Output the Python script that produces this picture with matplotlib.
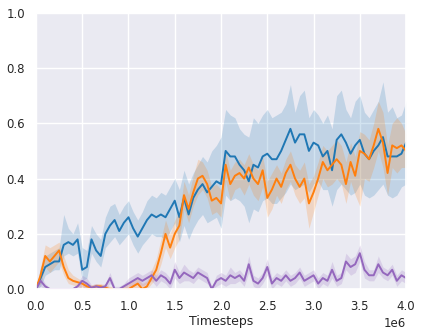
import numpy as np
import matplotlib
matplotlib.use("Agg")
import matplotlib.pyplot as plt
import seaborn as sns

# =========================================================
# DATA (x in units of 1e6 steps)
# =========================================================

steps = np.arange(0, 81) * 0.05e6

blue_mean = [0.00, 0.04, 0.08, 0.09, 0.10, 0.10, 0.16, 0.17, 0.16, 0.18,
             0.07, 0.08, 0.18, 0.14, 0.12, 0.20, 0.23, 0.25, 0.21, 0.24,
             0.26, 0.22, 0.19, 0.22, 0.25, 0.27, 0.26, 0.27, 0.26, 0.29,
             0.32, 0.26, 0.33, 0.27, 0.33, 0.36, 0.38, 0.35, 0.37, 0.39,
             0.38, 0.50, 0.48, 0.48, 0.45, 0.43, 0.39, 0.45, 0.44, 0.48,
             0.49, 0.47, 0.47, 0.50, 0.54, 0.58, 0.53, 0.56, 0.56, 0.50,
             0.53, 0.52, 0.48, 0.50, 0.43, 0.54, 0.56, 0.53, 0.49, 0.52,
             0.54, 0.49, 0.47, 0.50, 0.52, 0.55, 0.48, 0.48, 0.48, 0.49,
             0.53]
blue_upper = [0.00, 0.08, 0.12, 0.13, 0.14, 0.15, 0.27, 0.22, 0.20, 0.24,
              0.15, 0.14, 0.23, 0.20, 0.18, 0.26, 0.30, 0.31, 0.27, 0.30,
              0.32, 0.28, 0.25, 0.28, 0.32, 0.34, 0.33, 0.35, 0.34, 0.37,
              0.40, 0.36, 0.43, 0.38, 0.42, 0.45, 0.48, 0.46, 0.50, 0.52,
              0.55, 0.65, 0.63, 0.62, 0.58, 0.56, 0.55, 0.62, 0.60, 0.63,
              0.65, 0.62, 0.63, 0.64, 0.67, 0.74, 0.64, 0.70, 0.72, 0.62,
              0.65, 0.63, 0.60, 0.63, 0.58, 0.70, 0.72, 0.65, 0.62, 0.68,
              0.70, 0.64, 0.62, 0.65, 0.68, 0.75, 0.64, 0.66, 0.62, 0.63,
              0.68]
blue_lower = [0.00, 0.01, 0.05, 0.06, 0.07, 0.07, 0.12, 0.13, 0.12, 0.13,
              0.03, 0.04, 0.13, 0.10, 0.08, 0.15, 0.17, 0.19, 0.16, 0.18,
              0.20, 0.16, 0.13, 0.16, 0.18, 0.20, 0.19, 0.19, 0.18, 0.21,
              0.24, 0.17, 0.23, 0.18, 0.22, 0.25, 0.27, 0.24, 0.25, 0.26,
              0.22, 0.34, 0.32, 0.33, 0.32, 0.30, 0.24, 0.29, 0.28, 0.32,
              0.33, 0.31, 0.31, 0.33, 0.35, 0.38, 0.36, 0.37, 0.38, 0.35,
              0.38, 0.39, 0.36, 0.36, 0.30, 0.36, 0.38, 0.36, 0.34, 0.35,
              0.38, 0.34, 0.33, 0.34, 0.36, 0.38, 0.34, 0.33, 0.34, 0.37,
              0.38]

orange_mean = [0.00, 0.05, 0.12, 0.10, 0.12, 0.14, 0.08, 0.04, 0.03, 0.025,
               0.02, 0.01, 0.005, 0.01, 0.01, 0.005, 0.00, 0.00, 0.00, 0.00,
               0.00, 0.01, 0.02, 0.00, 0.01, 0.04, 0.07, 0.13, 0.20, 0.15,
               0.20, 0.23, 0.34, 0.29, 0.35, 0.40, 0.41, 0.38, 0.32, 0.33,
               0.31, 0.45, 0.38, 0.41, 0.42, 0.40, 0.44, 0.40, 0.38, 0.43,
               0.33, 0.36, 0.40, 0.37, 0.42, 0.45, 0.40, 0.37, 0.40, 0.31,
               0.35, 0.40, 0.46, 0.43, 0.45, 0.47, 0.45, 0.38, 0.46, 0.41,
               0.50, 0.49, 0.47, 0.52, 0.58, 0.53, 0.42, 0.52, 0.51, 0.52,
               0.50]
orange_upper = [0.00, 0.08, 0.16, 0.15, 0.16, 0.17, 0.12, 0.07, 0.05, 0.04,
                0.03, 0.02, 0.015, 0.02, 0.02, 0.015, 0.01, 0.005, 0.005, 0.01,
                0.02, 0.03, 0.04, 0.02, 0.03, 0.07, 0.11, 0.18, 0.25, 0.20,
                0.25, 0.28, 0.39, 0.34, 0.41, 0.47, 0.46, 0.43, 0.37, 0.38,
                0.36, 0.50, 0.43, 0.46, 0.47, 0.45, 0.49, 0.45, 0.43, 0.48,
                0.39, 0.42, 0.45, 0.42, 0.47, 0.50, 0.45, 0.43, 0.46, 0.38,
                0.41, 0.46, 0.52, 0.50, 0.52, 0.54, 0.52, 0.46, 0.53, 0.48,
                0.57, 0.56, 0.54, 0.60, 0.68, 0.64, 0.52, 0.60, 0.62, 0.60,
                0.56]
orange_lower = [0.00, 0.02, 0.08, 0.06, 0.08, 0.10, 0.05, 0.02, 0.015, 0.01,
                0.005, 0.00, 0.00, 0.00, 0.00, 0.00, 0.00, 0.00, 0.00, 0.00,
                0.00, 0.00, 0.00, 0.00, 0.00, 0.02, 0.04, 0.09, 0.15, 0.11,
                0.15, 0.18, 0.29, 0.24, 0.30, 0.34, 0.36, 0.33, 0.27, 0.28,
                0.26, 0.39, 0.32, 0.36, 0.37, 0.34, 0.38, 0.34, 0.32, 0.37,
                0.26, 0.29, 0.34, 0.31, 0.36, 0.39, 0.34, 0.31, 0.33, 0.22,
                0.28, 0.34, 0.40, 0.37, 0.38, 0.40, 0.38, 0.31, 0.39, 0.34,
                0.30, 0.40, 0.39, 0.44, 0.50, 0.44, 0.34, 0.44, 0.42, 0.44,
                0.44]

purple_mean = [0.00, 0.03, 0.01, 0.00, 0.00, 0.00, 0.00, 0.00, 0.00, 0.01,
               0.03, 0.02, 0.005, 0.01, 0.005, 0.01, 0.04, 0.00, 0.00, 0.01,
               0.02, 0.03, 0.04, 0.03, 0.04, 0.05, 0.03, 0.05, 0.04, 0.02,
               0.07, 0.04, 0.06, 0.05, 0.04, 0.06, 0.05, 0.04, 0.00, 0.03,
               0.04, 0.03, 0.05, 0.04, 0.05, 0.03, 0.09, 0.03, 0.02, 0.04,
               0.08, 0.02, 0.04, 0.03, 0.05, 0.03, 0.04, 0.06, 0.03, 0.04,
               0.05, 0.02, 0.04, 0.03, 0.07, 0.03, 0.04, 0.10, 0.08, 0.09,
               0.13, 0.07, 0.05, 0.05, 0.09, 0.06, 0.05, 0.07, 0.03, 0.05,
               0.04]
purple_spread = [0.00, 0.02, 0.01, 0.005, 0.005, 0.005, 0.005, 0.005, 0.005, 0.01,
                 0.02, 0.02, 0.01, 0.01, 0.01, 0.01, 0.02, 0.01, 0.01, 0.01,
                 0.02, 0.02, 0.02, 0.02, 0.02, 0.02, 0.02, 0.02, 0.02, 0.02,
                 0.03, 0.02, 0.03, 0.02, 0.02, 0.02, 0.02, 0.02, 0.01, 0.02,
                 0.02, 0.02, 0.03, 0.02, 0.02, 0.02, 0.03, 0.02, 0.02, 0.02,
                 0.03, 0.02, 0.02, 0.02, 0.02, 0.02, 0.02, 0.02, 0.02, 0.02,
                 0.02, 0.02, 0.02, 0.02, 0.03, 0.02, 0.02, 0.03, 0.03, 0.03,
                 0.03, 0.03, 0.02, 0.02, 0.03, 0.02, 0.02, 0.02, 0.02, 0.02,
                 0.02]

# =========================================================
# PLOT
# =========================================================

sns.set_theme(style="darkgrid")
plt.rcParams['font.family'] = ['DejaVu Sans']

fig = plt.figure(figsize=(4.23, 3.35), dpi=100)
ax = fig.add_axes([0.085, 0.137, 0.875, 0.825])

ax.fill_between(steps, blue_lower, blue_upper, color="tab:blue", alpha=0.2, linewidth=0)
ax.fill_between(steps, orange_lower, orange_upper, color="tab:orange", alpha=0.2, linewidth=0)
pm = np.array(purple_mean)
ps = np.array(purple_spread)
ax.fill_between(steps, np.clip(pm - ps, 0, None), pm + ps, color="tab:purple", alpha=0.2, linewidth=0)

ax.plot(steps, blue_mean, color="tab:blue", linewidth=1.4)
ax.plot(steps, orange_mean, color="tab:orange", linewidth=1.4)
ax.plot(steps, purple_mean, color="tab:purple", linewidth=1.4)

ax.set_xlim(0, 4e6)
ax.set_ylim(0, 1.0)
ax.set_xlabel("Timesteps", fontsize=9, labelpad=1)
ax.tick_params(labelsize=8.5, pad=2)
ax.xaxis.get_offset_text().set_fontsize(8.5)

fig.savefig("out.png", dpi=100)
